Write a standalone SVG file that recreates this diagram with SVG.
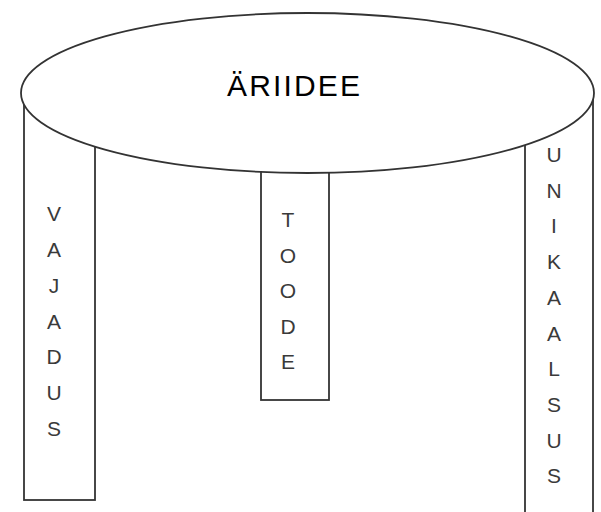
<svg xmlns="http://www.w3.org/2000/svg" width="601" height="512" viewBox="0 0 601 512">
<style>
.shape{fill:#fff;stroke:#333;stroke-width:1.8}
.v{font-family:"Liberation Sans",Arial,sans-serif;font-size:21px;fill:#3a3a3a;text-anchor:middle}
.t{font-family:"Liberation Sans",Arial,sans-serif;font-size:30px;fill:#000;text-anchor:middle}
</style>
<rect width="601" height="512" fill="#fff"/>
<g id="vajadus">
<rect class="shape" x="24" y="93" width="71" height="407"/>
<text class="v" x="54" y="221">V</text>
<text class="v" x="54" y="257">A</text>
<text class="v" x="54" y="293">J</text>
<text class="v" x="54" y="329">A</text>
<text class="v" x="54" y="364">D</text>
<text class="v" x="54" y="400">U</text>
<text class="v" x="54" y="436">S</text>
</g>
<g id="toode">
<rect class="shape" x="261" y="120" width="68" height="280"/>
<text class="v" x="288" y="227">T</text>
<text class="v" x="288" y="263">O</text>
<text class="v" x="288" y="298">O</text>
<text class="v" x="288" y="334">D</text>
<text class="v" x="288" y="369">E</text>
</g>
<g id="unikaalsus">
<rect class="shape" x="525" y="93" width="68" height="425"/>
<text class="v" x="554" y="162">U</text>
<text class="v" x="554" y="198">N</text>
<text class="v" x="554" y="233">I</text>
<text class="v" x="554" y="269">K</text>
<text class="v" x="554" y="305">A</text>
<text class="v" x="554" y="341">A</text>
<text class="v" x="554" y="376">L</text>
<text class="v" x="554" y="412">S</text>
<text class="v" x="554" y="448">U</text>
<text class="v" x="554" y="483">S</text>
</g>
<g id="ariidee">
<ellipse class="shape" cx="307.5" cy="93" rx="286.5" ry="80"/>
<text class="t" x="293.5" y="96" textLength="133" lengthAdjust="spacing">ÄRIIDEE</text>
</g>
<g id="connectors"/>
</svg>
